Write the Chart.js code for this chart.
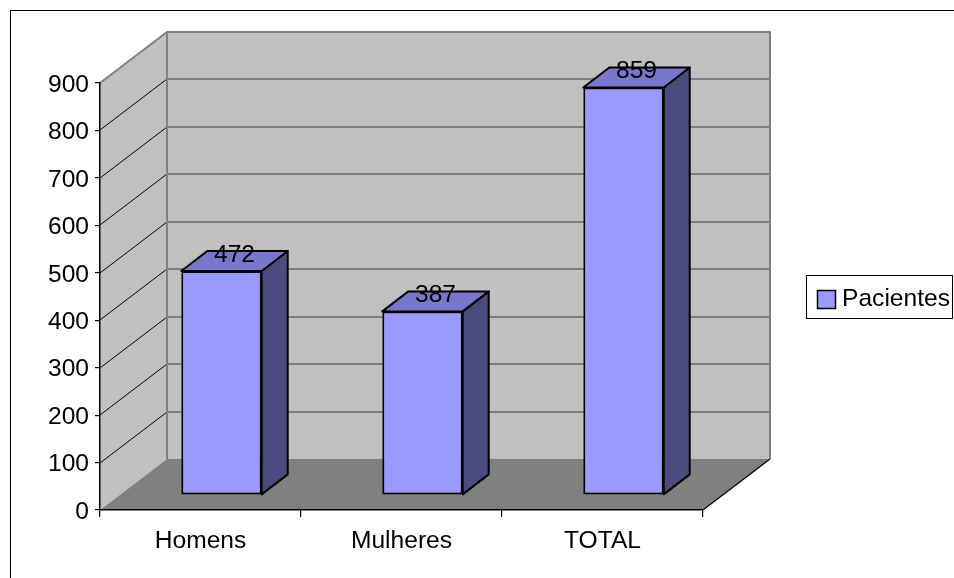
<!DOCTYPE html>
<html>
<head>
<meta charset="utf-8">
<script src="https://cdn.jsdelivr.net/npm/chart.js@4.4.1/dist/chart.umd.min.js"></script>
<style>
  html, body { margin: 0; padding: 0; background: #ffffff; }
  #wrap { width: 954px; height: 578px; position: relative; }
</style>
</head>
<body>
<div id="wrap"><canvas id="c"></canvas></div>
<script>
// Data
const categories = ['Homens', 'Mulheres', 'TOTAL'];
const pacientes = [472, 387, 859];
const seriesName = 'Pacientes';
const yTicks = [0, 100, 200, 300, 400, 500, 600, 700, 800, 900];

// 3D look
const FONT = 'Liberation Sans, Arial, sans-serif';
const FONT_SIZE = 24.6;
const ROOM_DEPTH = { x: 67, y: -51 };   // depth of the floor / walls
const BAR_SHIFT = { x: 21, y: -15 };    // bars stand in the middle of the floor
const BAR_DEPTH = { x: 26, y: -20 };    // thickness of each bar
const COLORS = {
  wall: '#c0c0c0',
  floor: '#808080',
  wallEdge: '#808080',
  wallGrid: '#6a6a6a',
  front: '#9999ff',
  top: '#7777cc',
  side: '#4b4b7f'
};

function poly(ctx, pts) {
  ctx.beginPath();
  ctx.moveTo(pts[0][0], pts[0][1]);
  for (let i = 1; i < pts.length; i++) ctx.lineTo(pts[i][0], pts[i][1]);
  ctx.closePath();
}

const roomPlugin = {
  id: 'room',
  beforeDraw(chart) {
    const { ctx, chartArea: a, scales: { y } } = chart;
    const dx = ROOM_DEPTH.x, dy = ROOM_DEPTH.y;
    ctx.save();
    // frame
    ctx.strokeStyle = '#000';
    ctx.lineWidth = 1;
    ctx.strokeRect(10.5, 10.5, 1200, 1200);

    // side wall
    ctx.fillStyle = COLORS.wall;
    poly(ctx, [[a.left, a.top], [a.left + dx, a.top + dy], [a.left + dx, a.bottom + dy], [a.left, a.bottom]]);
    ctx.fill();
    // back wall
    poly(ctx, [[a.left + dx, a.top + dy], [a.right + dx, a.top + dy], [a.right + dx, a.bottom + dy], [a.left + dx, a.bottom + dy]]);
    ctx.fill();
    // floor
    ctx.fillStyle = COLORS.floor;
    poly(ctx, [[a.left, a.bottom], [a.left + dx, a.bottom + dy], [a.right + dx, a.bottom + dy], [a.right, a.bottom]]);
    ctx.fill();

    // grid lines
    const maxV = yTicks[yTicks.length - 1];
    yTicks.forEach(v => {
      if (v === yTicks[0]) return;
      const py = Math.round(y.getPixelForValue(v));
      ctx.strokeStyle = COLORS.wallGrid;
      ctx.lineWidth = 1.5;
      ctx.beginPath();
      ctx.moveTo(a.left + dx, py + dy);
      ctx.lineTo(a.right + dx, py + dy);
      ctx.stroke();
      if (v !== maxV) {
        ctx.strokeStyle = '#000';
        ctx.lineWidth = 1;
        ctx.beginPath();
        ctx.moveTo(a.left, py);
        ctx.lineTo(a.left + dx, py + dy);
        ctx.stroke();
      }
    });

    // wall edges
    ctx.strokeStyle = COLORS.wallEdge;
    ctx.lineWidth = 2;
    ctx.beginPath();
    ctx.moveTo(a.left, a.top);
    ctx.lineTo(a.left + dx, a.top + dy);
    ctx.lineTo(a.right + dx, a.top + dy);
    ctx.lineTo(a.right + dx, a.bottom + dy);
    ctx.moveTo(a.left + dx, a.top + dy);
    ctx.lineTo(a.left + dx, a.bottom + dy);
    ctx.stroke();

    // floor right edge
    ctx.strokeStyle = '#000';
    ctx.lineWidth = 1.2;
    ctx.beginPath();
    ctx.moveTo(a.right, a.bottom);
    ctx.lineTo(a.right + dx, a.bottom + dy);
    ctx.stroke();
    ctx.restore();
  },
  beforeDatasetsDraw(chart) {
    chart.ctx.save();
    chart.ctx.translate(BAR_SHIFT.x, BAR_SHIFT.y);
  },
  afterDatasetsDraw(chart) {
    const ctx = chart.ctx;
    ctx.restore();
    ctx.save();
    const meta = chart.getDatasetMeta(0);
    const bx = BAR_DEPTH.x, by = BAR_DEPTH.y;
    meta.data.forEach((bar, i) => {
      const p = bar.getProps(['x', 'y', 'base', 'width'], true);
      const l = p.x - p.width / 2 + BAR_SHIFT.x;
      const r = p.x + p.width / 2 + BAR_SHIFT.x;
      const t = p.y + BAR_SHIFT.y;
      const b = p.base + BAR_SHIFT.y;
      ctx.lineWidth = 2;
      ctx.lineJoin = 'round';
      ctx.strokeStyle = '#000';
      // side face
      ctx.fillStyle = COLORS.side;
      poly(ctx, [[r, t], [r + bx, t + by], [r + bx, b + by], [r, b]]);
      ctx.fill();
      ctx.stroke();
      // top face
      ctx.fillStyle = COLORS.top;
      poly(ctx, [[l, t], [l + bx, t + by], [r + bx, t + by], [r, t]]);
      ctx.fill();
      ctx.stroke();
      // value label
      ctx.fillStyle = '#000';
      ctx.font = FONT_SIZE + 'px ' + FONT;
      ctx.textAlign = 'center';
      ctx.textBaseline = 'alphabetic';
      ctx.fillText(String(pacientes[i]), (l + r) / 2 + bx / 2, t + by / 2 + 1);
    });
    ctx.restore();
  },
  afterDraw(chart) {
    const ctx = chart.ctx;
    ctx.save();
    // legend
    ctx.fillStyle = '#fff';
    ctx.fillRect(806.5, 275.5, 146, 43);
    ctx.strokeStyle = '#000';
    ctx.lineWidth = 1;
    ctx.strokeRect(806.5, 275.5, 146, 43);
    ctx.fillStyle = COLORS.front;
    ctx.fillRect(817.5, 290.5, 18, 18);
    ctx.lineWidth = 1.5;
    ctx.strokeRect(817.5, 290.5, 18, 18);
    ctx.fillStyle = '#000';
    ctx.font = FONT_SIZE + 'px ' + FONT;
    ctx.textAlign = 'left';
    ctx.textBaseline = 'middle';
    ctx.fillText(seriesName, 842, 299);
    ctx.restore();
  }
};

new Chart(document.getElementById('c'), {
  type: 'bar',
  data: {
    labels: categories,
    datasets: [{
      label: seriesName,
      data: pacientes,
      backgroundColor: COLORS.front,
      borderColor: '#000',
      borderWidth: 2,
      borderSkipped: false,
      categoryPercentage: 1,
      barPercentage: 0.4,
      clip: false
    }]
  },
  options: {
    responsive: true,
    maintainAspectRatio: false,
    animation: false,
    events: [],
    layout: { padding: { top: 83, right: 251, bottom: 0, left: 0 } },
    plugins: { legend: { display: false }, tooltip: { enabled: false } },
    scales: {
      x: {
        grid: { drawOnChartArea: false, color: '#000', tickLength: 7, lineWidth: 1.2, offset: true },
        border: { color: '#000', width: 1.5 },
        ticks: { color: '#000', font: { family: FONT, size: FONT_SIZE }, padding: 9, maxRotation: 0 },
        afterFit(scale) { scale.height = 68; }
      },
      y: {
        min: yTicks[0],
        max: yTicks[yTicks.length - 1],
        ticks: { stepSize: yTicks[1] - yTicks[0], color: '#000', font: { family: FONT, size: FONT_SIZE }, padding: 6, labelOffset: 2 },
        grid: { drawOnChartArea: false, color: '#000', tickLength: 5, lineWidth: 1.2 },
        border: { color: '#000', width: 1.5 },
        afterFit(scale) { scale.width = 100; }
      }
    }
  },
  plugins: [roomPlugin]
});
</script>
</body>
</html>
